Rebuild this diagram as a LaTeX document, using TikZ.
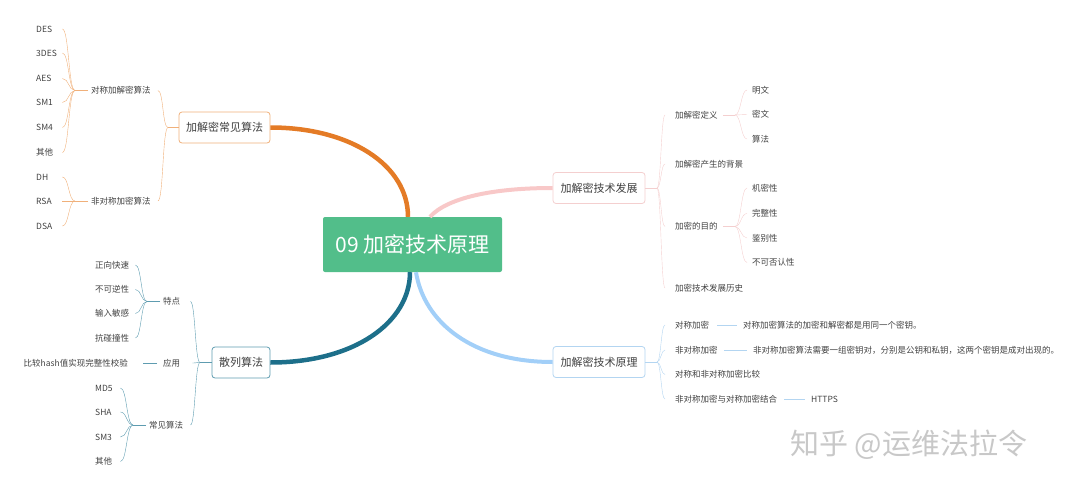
\documentclass[tikz,border=0pt]{standalone}
\usepackage{fontspec}
\setmainfont{Noto Sans CJK SC}
\definecolor{txt}{HTML}{404040}
\definecolor{cgreen}{HTML}{52BE8A}
\definecolor{orT}{HTML}{E47B26}
\definecolor{orL}{HTML}{F0B07A}
\definecolor{tlT}{HTML}{1D6F8A}
\definecolor{tlL}{HTML}{5E9CB0}
\definecolor{pkT}{HTML}{F8C8C8}
\definecolor{pkL}{HTML}{F4CFCF}
\definecolor{blT}{HTML}{A2CFF8}
\definecolor{blL}{HTML}{B3D5F1}
\definecolor{wm}{HTML}{C8C8C8}
\begin{document}
\begin{tikzpicture}[x=1pt,y=-1pt,
  lf/.style={inner sep=0pt, font=\fontsize{8.5}{10}\selectfont, text=txt},
  hub/.style={rounded corners=3pt, fill=white, line width=0.8pt, inner sep=0pt,
    font=\fontsize{11}{13}\selectfont, text=txt, minimum height=31},
  thin/.style={line width=0.8pt},
  bl/.style={thin, to path={.. controls +(180:#1) and +(0:#1) .. (\tikztotarget)}},
  br/.style={thin, to path={.. controls +(0:#1) and +(180:#1) .. (\tikztotarget)}},
  thick/.style={line width=4.5pt},
]
\useasboundingbox (0,0) rectangle (1080,490);

% central
\node[fill=cgreen, rounded corners=2pt, minimum width=179, minimum height=55,
  inner sep=0pt, text=white, font=\fontsize{21}{24}\selectfont] (c) at (412.5,244.5) {09 加密技术原理};

% ---------- left top: 加解密常见算法 ----------
\node[hub, draw=orL, minimum width=91] (hl) at (224.5,127.5) {加解密常见算法};
\node[lf, anchor=west] (s1) at (91,90.5) {对称加解密算法};
\node[lf, anchor=west] (s2) at (91,201) {非对称加密算法};
\coordinate (j0) at (168,127.5);
\draw[thin, orL] (hl.west) -- (j0);
\draw[orL] (j0) to[bl=5.5] ([xshift=7]s1.east);
\draw[orL] (j0) to[bl=5.5] ([xshift=7]s2.east);
\coordinate (j1) at (75,90.5);
\draw[thin, orL] ([xshift=-3]s1.west) -- (j1);
\foreach \n/\t/\y in {a1/DES/29, a2/3DES/53, a3/AES/78.5, a4/SM1/102.5, a5/SM4/127.5, a6/其他/152.5}{
  \node[lf, anchor=west, text width=26, align=left] (\n) at (36,\y) {\t};
  \draw[orL] (j1) to[bl=6.5] (\n.east);
}
\coordinate (j2) at (75,201);
\draw[thin, orL] ([xshift=-3]s2.west) -- (j2);
\foreach \n/\t/\y in {b1/DH/177, b2/RSA/201, b3/DSA/226}{
  \node[lf, anchor=west, text width=26, align=left] (\n) at (36,\y) {\t};
  \draw[orL] (j2) to[bl=6.5] (\n.east);
}

% ---------- left bottom: 散列算法 ----------
\node[hub, draw=tlL, minimum width=58] (hs) at (241,362.5) {散列算法};
\node[lf, anchor=west] (h1) at (163,301.5) {特点};
\node[lf, anchor=west] (h2) at (163,363) {应用};
\node[lf, anchor=west] (h3) at (149,425) {常见算法};
\coordinate (j4) at (200,362.5);
\draw[thin, tlL] (hs.west) -- (j4);
\draw[tlL] (j4) to[bl=5] ([xshift=10]h1.east);
\draw[tlL] (j4) to[bl=5] ([xshift=12]h2.east);
\draw[tlL] (j4) to[bl=5] ([xshift=7]h3.east);
\coordinate (j5) at (147,301.5);
\draw[thin, tlL] ([xshift=-3]h1.west) -- (j5);
\foreach \n/\t/\y in {t1/正向快速/265, t2/不可逆性/289.5, t3/输入敏感/313.5, t4/抗碰撞性/338}{
  \node[lf, anchor=west, text width=40, align=left] (\n) at (95,\y) {\t};
  \draw[tlL] (j5) to[bl=6] (\n.east);
}
\node[lf, anchor=east] (h2l) at (128,363) {比较hash值实现完整性校验};
\draw[thin, tlL] ([xshift=-6]h2.west) -- ([xshift=15]h2l.east);
\coordinate (j6) at (133,425);
\draw[thin, tlL] ([xshift=-3]h3.west) -- (j6);
\foreach \n/\t/\y in {u1/MD5/388, u2/SHA/412, u3/SM3/437, u4/其他/461.5}{
  \node[lf, anchor=west, text width=25, align=left] (\n) at (95,\y) {\t};
  \draw[tlL] (j6) to[bl=6.5] (\n.east);
}

% ---------- right top: 加解密技术发展 ----------
\node[hub, draw=pkL, minimum width=92] (rt) at (599,188) {加解密技术发展};
\coordinate (j7) at (657,188);
\draw[thin, pkL] (rt.east) -- (j7);
\foreach \n/\t/\y in {r1/加解密定义/115, r2/加解密产生的背景/164, r3/加密的目的/226.5, r4/加密技术发展历史/288}{
  \node[lf, anchor=west] (\n) at (675,\y) {\t};
  \draw[pkL] (j7) to[br=4] ([xshift=-10]\n.west);
}
\coordinate (j8) at (735,115);
\draw[thin, pkL] ([xshift=5]r1.east) -- (j8);
\foreach \n/\t/\y in {m1/明文/90, m2/密文/114.5, m3/算法/139}{
  \node[lf, anchor=west] (\n) at (752,\y) {\t};
  \draw[pkL] (j8) to[br=6] ([xshift=-5]\n.west);
}
\coordinate (j9) at (735,226.5);
\draw[thin, pkL] ([xshift=5]r3.east) -- (j9);
\foreach \n/\t/\y in {p1/机密性/188, p2/完整性/213.5, p3/鉴别性/238, p4/不可否认性/262.5}{
  \node[lf, anchor=west] (\n) at (752,\y) {\t};
  \draw[pkL] (j9) to[br=6] ([xshift=-5]\n.west);
}

% ---------- right bottom: 加解密技术原理 ----------
\node[hub, draw=blL, minimum width=92] (rb) at (599,362) {加解密技术原理};
\coordinate (j10) at (657,362);
\draw[thin, blL] (rb.east) -- (j10);
\foreach \n/\t/\y in {q1/对称加密/325, q2/非对称加密/350, q3/对称和非对称加密比较/374.5, q4/非对称加密与对称加密结合/399}{
  \node[lf, anchor=west] (\n) at (675,\y) {\t};
  \draw[blL] (j10) to[br=4] ([xshift=-10]\n.west);
}
\node[lf, anchor=west] (d1) at (743,325) {对称加密算法的加密和解密都是用同一个密钥。};
\node[lf, anchor=west] (d2) at (753,350) {非对称加密算法需要一组密钥对，分别是公钥和私钥，这两个密钥是成对出现的。};
\node[lf, anchor=west] (d4) at (811,399) {HTTPS};
\draw[thin, blL] ([xshift=8]q1.east) -- ([xshift=-6]d1.west);
\draw[thin, blL] ([xshift=6]q2.east) -- ([xshift=-6]d2.west);
\draw[thin, blL] ([xshift=7]q4.east) -- ([xshift=-6]d4.west);

% ---------- thick main branches ----------
\draw[thick, orT] (hl.east) .. controls (350,127.5) and (408,165) .. ([xshift=-4.5]c.north);
\draw[thick, tlT] ([xshift=-2.5]c.south) .. controls (410,322) and (355,362.5) .. (hs.east);
\draw[thick, pkT, line width=4pt] ([xshift=17.5]c.north) .. controls (447,198) and (492,188) .. (rt.west);
\draw[thick, blT, line width=4pt] ([xshift=3.5]c.south) .. controls (424,322) and (472,362) .. (rb.west);

% watermark
\node[anchor=west, inner sep=0pt, text=wm, font=\fontsize{29}{33}\selectfont] (wmk) at (790,445) {知乎 @运维法拉令};
\end{tikzpicture}
\end{document}
